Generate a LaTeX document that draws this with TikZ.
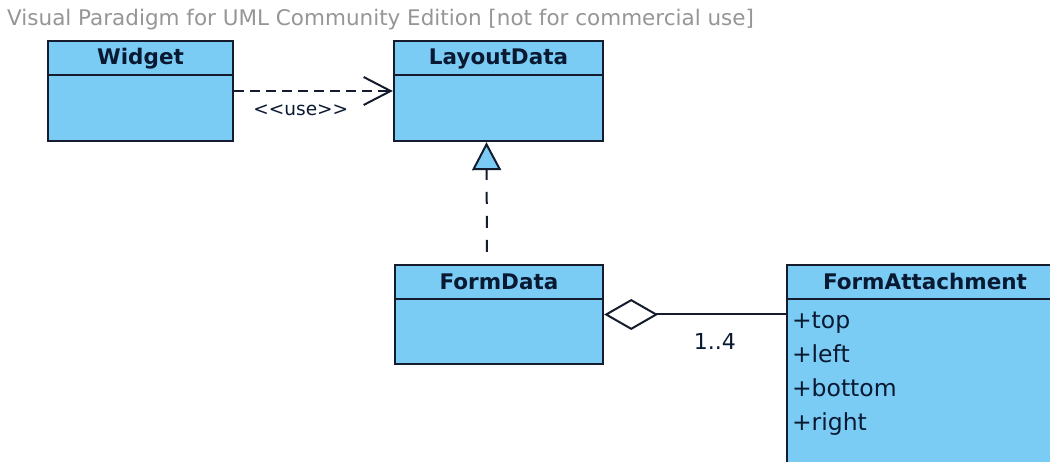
\documentclass[tikz,border=0pt]{standalone}
\usepackage{fontspec}
\setmainfont{DejaVu Sans}
\usetikzlibrary{arrows.meta}

\definecolor{classfill}{RGB}{122,204,245}
\definecolor{classline}{RGB}{20,28,45}
\definecolor{classtext}{RGB}{10,25,50}
\definecolor{notegray}{RGB}{150,150,150}

\begin{document}
\begin{tikzpicture}[x=1pt, y=-1pt,
  umlclass/.style={draw=classline, fill=classfill, line width=2.4pt, inner sep=0pt},
  classname/.style={font=\fontsize{21.5}{25}\selectfont\bfseries, text=classtext, inner sep=0pt, anchor=base},
  attrib/.style={font=\fontsize{23.5}{28}\selectfont, text=classtext, inner sep=0pt, anchor=base west},
  conn/.style={draw=classline, line width=2pt},
  connlabel/.style={font=\fontsize{18.5}{22}\selectfont, text=classtext, inner sep=0pt, anchor=base}]
% Page frame, the last class runs off the edge
\useasboundingbox (0,0) rectangle (1050,462);
\fill[white] (0,0) rectangle (1050,462);
\clip (0,0) rectangle (1050,462);

% Watermark
\node[font=\fontsize{21.5}{26}\selectfont, text=notegray, inner sep=0pt, anchor=base west] (watermark) at (7,26) {Visual Paradigm for UML Community Edition [not for commercial use]};

% Classes
\node[umlclass, minimum width=185pt, minimum height=100pt] (widget) at (140.5,91) {};
\node[umlclass, minimum width=209pt, minimum height=100pt] (layout) at (498.5,91) {};
\node[umlclass, minimum width=208pt, minimum height=99pt] (formdata) at (499,314.5) {};
\node[umlclass, minimum width=276pt, minimum height=215pt] (formattach) at (925,372.5) {};

% Header lines
\draw[classline, line width=2.4pt] ([yshift=-35pt]widget.north west) -- ([yshift=-35pt]widget.north east);
\draw[classline, line width=2.4pt] ([yshift=-35pt]layout.north west) -- ([yshift=-35pt]layout.north east);
\draw[classline, line width=2.4pt] ([yshift=-35pt]formdata.north west) -- ([yshift=-35pt]formdata.north east);
\draw[classline, line width=2.4pt] ([yshift=-35pt]formattach.north west) -- ([yshift=-35pt]formattach.north east);

% Class names
\node[classname] (widgetname) at ([yshift=-25pt]widget.north) {Widget};
\node[classname] (layoutname) at ([yshift=-25pt]layout.north) {LayoutData};
\node[classname] (formdataname) at ([yshift=-26pt]formdata.north) {FormData};
\node[classname] (formattachname) at ([yshift=-26pt]formattach.north) {FormAttachment};

% Attributes
\node[attrib] (attrtop) at ([xshift=6pt, yshift=-65pt]formattach.north west) {+top};
\node[attrib] (attrleft) at ([xshift=6pt, yshift=-99pt]formattach.north west) {+left};
\node[attrib] (attrbottom) at ([xshift=6pt, yshift=-133pt]formattach.north west) {+bottom};
\node[attrib] (attrright) at ([xshift=6pt, yshift=-167pt]formattach.north west) {+right};

% Connectors
\draw[conn, dash pattern=on 10pt off 6pt, -{Straight Barb[length=27pt, width=28pt]}] (widget.east) -- (layout.west)
  node[connlabel, pos=0.42, yshift=-25pt] (uselabel) {{<}{<}use{>}{>}};
\draw[conn, dash pattern=on 12pt off 12pt, dash phase=12pt, -{Triangle[length=28pt, width=29pt, fill=classfill]}] ([xshift=-12pt]formdata.north) -- ([xshift=-12pt]layout.south);
\draw[conn, {Diamond[length=54pt, width=31pt, fill=white]}-] (formdata.east) -- (formattach.west |- formdata.east)
  node[connlabel, font=\fontsize{22}{26}\selectfont, pos=0.61, yshift=-35pt] (multlabel) {1..4};

\end{tikzpicture}
\end{document}
